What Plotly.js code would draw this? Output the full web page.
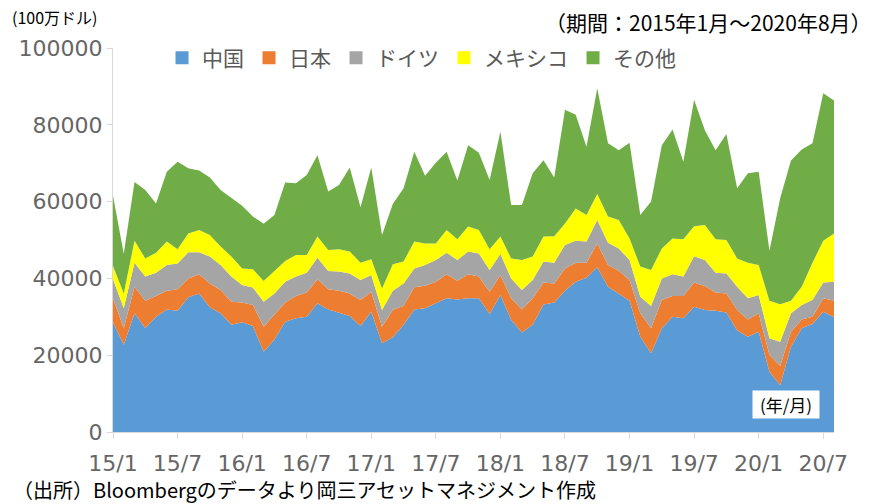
<!DOCTYPE html>
<html>
<head>
<meta charset="utf-8">
<script src="https://cdn.plot.ly/plotly-3.0.1.min.js"></script>
<style>html,body{margin:0;padding:0;background:#fff;}#chart{width:877px;height:504px;}</style>
</head>
<body>
<div id="chart"></div>
<script>
// Monthly categories 2015/1 - 2020/8
const months = [];
for (let y = 15; y <= 20; y++) {
  for (let m = 1; m <= 12; m++) {
    if (y === 20 && m > 8) break;
    months.push(y + "/" + m);
  }
}
const tickLabels = ["15/1","15/7","16/1","16/7","17/1","17/7","18/1","18/7","19/1","19/7","20/1","20/7"];

const seriesNames = ["中国", "日本", "ドイツ", "メキシコ", "その他"];
const seriesColors = ["#5B9BD5", "#ED7D31", "#A5A5A5", "#FFFF00", "#70AD47"];

// values in million USD
const china = [28600,22700,30900,27000,30000,31900,31600,35100,36100,32500,
  30900,27900,28600,27600,20900,24100,28700,29600,30000,33500,
  31900,31100,30200,27600,31300,23100,24700,27900,31900,32200,
  33500,34800,34500,34800,34800,30700,35700,29200,25900,27900,
  33200,33700,36800,39100,40200,42900,37800,36100,34200,24800,
  20500,27000,30000,29600,32600,31800,31600,31100,26400,24800,
  26100,15700,12200,22200,27000,28100,31300,29900];
const japan = [6200,4300,6900,7200,5400,4900,5600,4900,5000,6200,
  6100,6000,5100,5500,6500,6400,5000,5800,6300,6300,
  5300,5700,5900,6800,5200,4300,7100,5000,5800,5900,
  5600,6300,4900,6300,5700,5800,5200,5600,6000,6900,
  5700,5000,5800,5000,3900,6200,5700,5900,5400,6100,
  6500,7400,5400,5800,6300,6200,4700,5000,5400,4500,
  4800,4400,5000,3900,2300,1900,3500,4300];
const germany = [5000,5200,6300,6300,6100,6700,6700,6800,5700,7000,
  6500,6600,4600,4500,6500,5600,5400,5100,5200,5600,
  4700,5000,5200,5200,4400,4400,5000,5800,4900,5400,
  5700,5600,5400,5900,6000,5700,5500,5200,5100,4800,
  5500,5400,6100,5700,5500,6100,5800,5800,5200,4300,
  5800,5600,5700,5100,6900,6800,5200,5200,6000,5500,
  4800,4300,6300,4800,3800,4400,4100,4900];
const mexico = [3400,3900,5700,4700,5200,6100,3700,4900,5800,5600,
  4800,5200,4300,4800,5400,5700,5400,5600,4600,5500,
  5500,5800,5700,4500,4100,5600,6900,5700,7000,5600,
  4300,5900,5400,6500,6100,5400,4500,5200,7800,6100,
  6500,6900,5600,8400,6900,6800,6800,7400,5600,7900,
  9400,7800,9300,9700,7800,9100,8700,8700,7400,9300,
  7800,9800,9800,3300,4700,9700,10900,12600];
const other = [18300,10300,15300,17800,12800,18200,22800,17000,15500,15000,
  14700,15200,16300,13700,14900,14700,20500,18700,20800,21200,
  15200,16700,21900,14400,23900,13900,15700,19100,23400,17600,
  21000,20400,15300,21200,20100,18000,27300,13900,14300,21700,
  19900,15300,29600,24400,17800,27500,19100,18200,24900,13400,
  17800,26900,28400,20200,32900,24700,23200,27600,18300,23300,
  24300,13000,27600,36500,35800,31100,38400,34600];

const seriesValues = [china, japan, germany, mexico, other];

const traces = [];
seriesValues.forEach((vals, i) => {
  traces.push({
    type: "scatter", mode: "lines", x: months, y: vals,
    stackgroup: "one", name: seriesNames[i],
    line: {width: 0, color: seriesColors[i]},
    fillcolor: seriesColors[i], showlegend: false, hoverinfo: "skip"
  });
});
// legend entries (square swatches)
seriesNames.forEach((n, i) => {
  traces.push({
    type: "scatter", mode: "markers", x: [null], y: [null], name: n,
    marker: {symbol: "square", size: 13, color: seriesColors[i]},
    showlegend: true
  });
});

const jp = "Noto Sans CJK JP";
const tickFont = {family: "DejaVu Sans", size: 22, color: "#666666"};

const layout = {
  width: 877, height: 504,
  margin: {l: 113, r: 43, t: 48, b: 72},
  paper_bgcolor: "#ffffff", plot_bgcolor: "#ffffff",
  showlegend: true,
  legend: {
    orientation: "h", x: 0.068, xanchor: "left", y: 0.974, yanchor: "middle",
    bgcolor: "rgba(0,0,0,0)", traceorder: "normal",
    font: {family: jp, size: 21, color: "#595959"}
  },
  xaxis: {
    type: "category", range: [0, months.length - 1],
    tickmode: "array", tickvals: months.filter((m, i) => i % 6 === 0), ticktext: tickLabels,
    showline: true, linecolor: "#d9d9d9", linewidth: 1,
    ticks: "outside", ticklen: 6, tickcolor: "#d9d9d9",
    showgrid: false, zeroline: false, tickfont: tickFont, ticklabelstandoff: 6
  },
  yaxis: {
    range: [0, 100000], dtick: 20000, tickformat: "d",
    showline: true, linecolor: "#d9d9d9", linewidth: 1,
    ticks: "outside", ticklen: 5, tickcolor: "#d9d9d9",
    showgrid: false, zeroline: false, tickfont: tickFont
  },
  annotations: [
    {text: "(100万ドル)", xref: "paper", yref: "paper", x: -0.143, y: 1.081,
     xanchor: "left", yanchor: "middle", showarrow: false,
     font: {family: jp, size: 16, color: "#000000"}},
    {text: "（期間：2015年1月～2020年8月）", xref: "paper", yref: "paper", x: 1.055, y: 1.068,
     xanchor: "right", yanchor: "middle", showarrow: false,
     font: {family: jp, size: 21, color: "#000000"}},
    {text: "(年/月)", xref: "paper", yref: "paper", x: 0.933, y: 0.072,
     xanchor: "center", yanchor: "middle", showarrow: false,
     bgcolor: "#ffffff", borderpad: 3, width: 60, height: 21,
     font: {family: jp, size: 17, color: "#000000"}},
    {text: "（出所）Bloombergのデータより岡三アセットマネジメント作成", xref: "paper", yref: "paper",
     x: -0.142, y: -0.149, xanchor: "left", yanchor: "middle", showarrow: false,
     font: {family: jp, size: 20, color: "#000000"}}
  ]
};

Plotly.newPlot("chart", traces, layout, {displayModeBar: false, staticPlot: true});
</script>
</body>
</html>
